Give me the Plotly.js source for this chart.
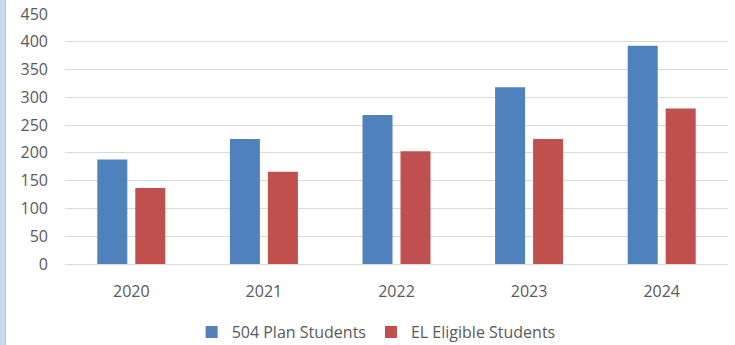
<!DOCTYPE html>
<html>
<head>
<meta charset="utf-8">
<script src="https://cdn.plot.ly/plotly-3.0.1.min.js"></script>
<style>
html,body{margin:0;padding:0;background:#fff;}
#wrap{position:relative;width:735px;height:345px;overflow:hidden;}
#chart{width:735px;height:345px;}
#strip{position:absolute;left:0;top:0;width:5px;height:345px;background:#C9DCF0;border-right:1px solid #A9C6E6;}
</style>
</head>
<body>
<div id="wrap"><div id="chart"></div><div id="strip"></div></div>
<script>
const years = ['2020', '2021', '2022', '2023', '2024'];
const plan504 = [188, 225, 268, 318, 393];
const elEligible = [137, 166, 203, 225, 280];
const seriesNames = ['504 Plan Students', 'EL Eligible Students'];
const yTicks = [0, 50, 100, 150, 200, 250, 300, 350, 400, 450];

const data = [
  {type: 'bar', x: years, y: plan504, name: seriesNames[0], marker: {color: '#4F81BD'}, hoverinfo: 'y'},
  {type: 'bar', x: years, y: elEligible, name: seriesNames[1], marker: {color: '#C0504D'}, hoverinfo: 'y'}
];

const layout = {
  width: 735, height: 345,
  margin: {l: 65, r: 7, t: 14, b: 81, pad: 0, autoexpand: false},
  paper_bgcolor: '#ffffff', plot_bgcolor: '#ffffff',
  font: {family: 'Open Sans, sans-serif', size: 16, color: '#595959'},
  barmode: 'group', bargap: 0.427, bargroupgap: 0.21,
  showlegend: true,
  legend: {orientation: 'h', x: 0.191, xanchor: 'left', y: -0.272, yanchor: 'middle',
           font: {size: 16, color: '#595959'}, itemwidth: 30, traceorder: 'normal'},
  xaxis: {type: 'category', automargin: false, showgrid: false, showline: true, linecolor: '#D9D9D9', linewidth: 1,
          ticks: '', ticklabelstandoff: 13, tickfont: {size: 16, color: '#595959'}},
  yaxis: {range: [0, 450], automargin: false, tickvals: yTicks, ticktext: yTicks.map(String), showgrid: true,
          gridcolor: '#D9D9D9', gridwidth: 1, zeroline: false, showline: false, ticks: '',
          ticklabelstandoff: 16, tickfont: {size: 16, color: '#595959'}}
};

Plotly.newPlot('chart', data, layout, {displayModeBar: false, staticPlot: true});
</script>
</body>
</html>
